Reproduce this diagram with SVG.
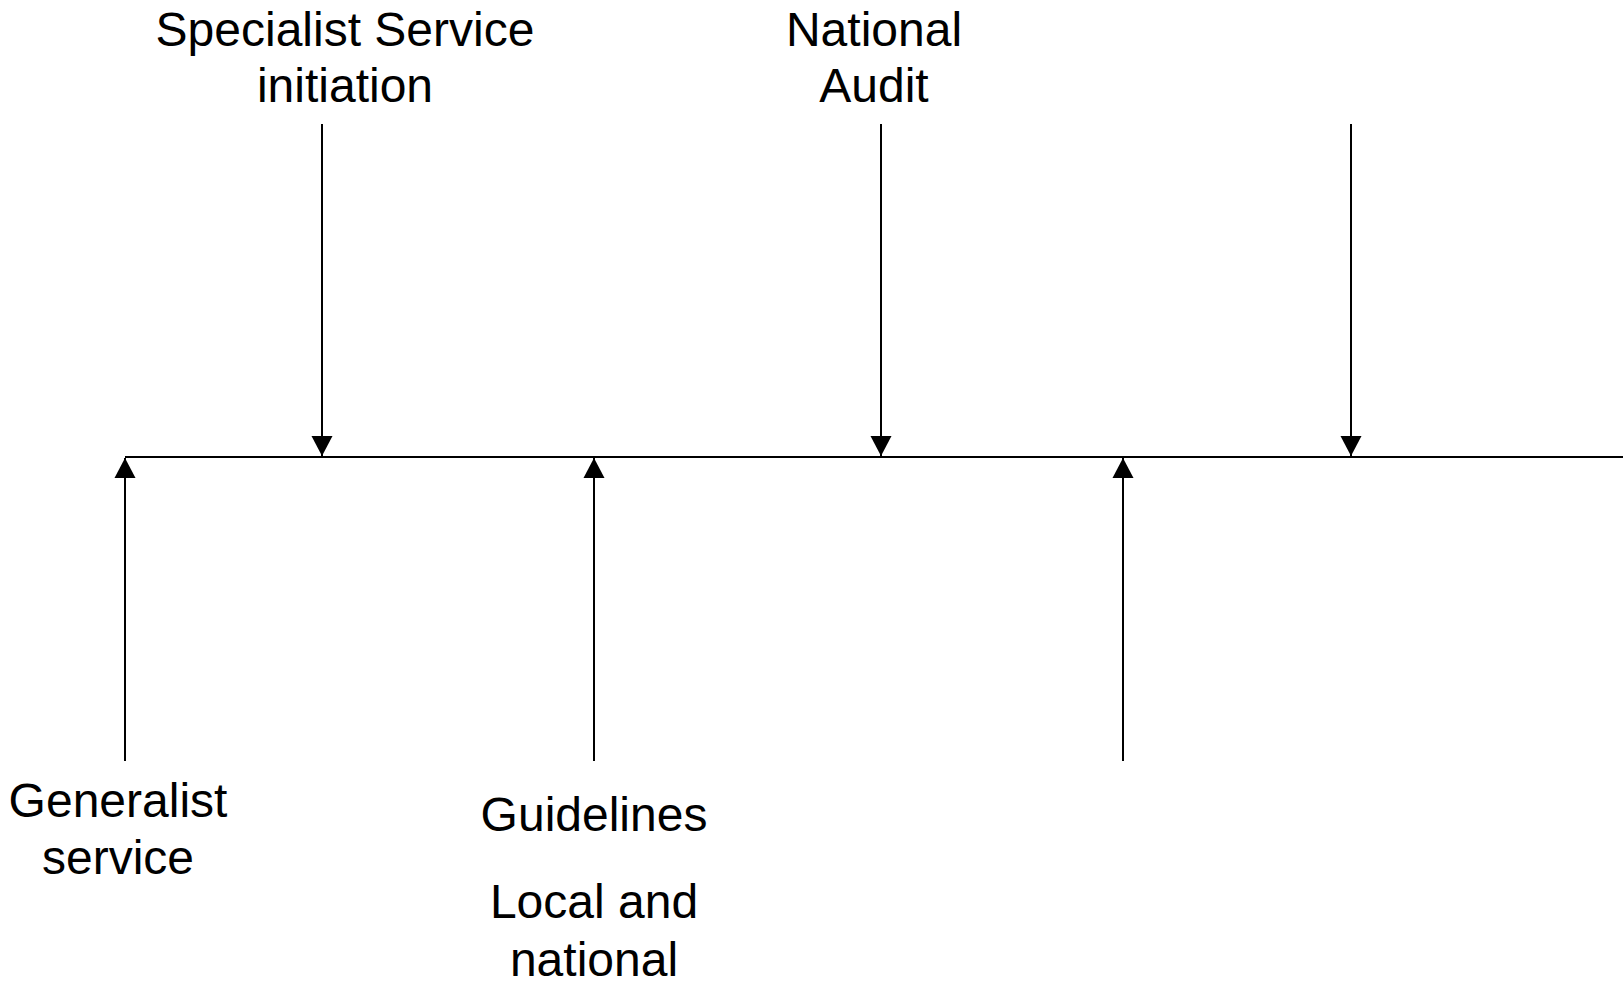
<svg xmlns="http://www.w3.org/2000/svg" width="1623" height="982" viewBox="0 0 1623 982">
<defs>
<style>
.lbl{font-family:"Liberation Sans",Arial,sans-serif;font-size:48px;fill:#000;text-anchor:middle}
.ln{stroke:#000;stroke-width:2;fill:none}
.ah{fill:#000;stroke:none}
</style>
<marker id="arr" markerUnits="userSpaceOnUse" markerWidth="22" markerHeight="22" viewBox="0 0 22 22" refX="21" refY="11" orient="auto">
<path class="ah" d="M1,0.5 L21,11 L1,21.5 Z"/>
</marker>
</defs>
<rect width="1623" height="982" fill="#fff"/>
<g id="timeline">
<line class="ln" x1="125" y1="457" x2="1623" y2="457"/>
</g>
<g id="connectors">
<line class="ln" x1="322" y1="124" x2="322" y2="456" marker-end="url(#arr)"/>
<line class="ln" x1="881" y1="124" x2="881" y2="456" marker-end="url(#arr)"/>
<line class="ln" x1="1351" y1="124" x2="1351" y2="456" marker-end="url(#arr)"/>
<line class="ln" x1="125" y1="761" x2="125" y2="458" marker-end="url(#arr)"/>
<line class="ln" x1="594" y1="761" x2="594" y2="458" marker-end="url(#arr)"/>
<line class="ln" x1="1123" y1="761" x2="1123" y2="458" marker-end="url(#arr)"/>
</g>
<g id="specialist">
<text class="lbl" x="345" y="46">Specialist Service</text>
<text class="lbl" x="345" y="102">initiation</text>
</g>
<g id="audit">
<text class="lbl" x="874" y="46">National</text>
<text class="lbl" x="874" y="102">Audit</text>
</g>
<g id="generalist">
<text class="lbl" x="118" y="817">Generalist</text>
<text class="lbl" x="118" y="874">service</text>
</g>
<g id="guidelines">
<text class="lbl" x="594" y="831">Guidelines</text>
<text class="lbl" x="594" y="918">Local and</text>
<text class="lbl" x="594" y="976">national</text>
</g>
</svg>
